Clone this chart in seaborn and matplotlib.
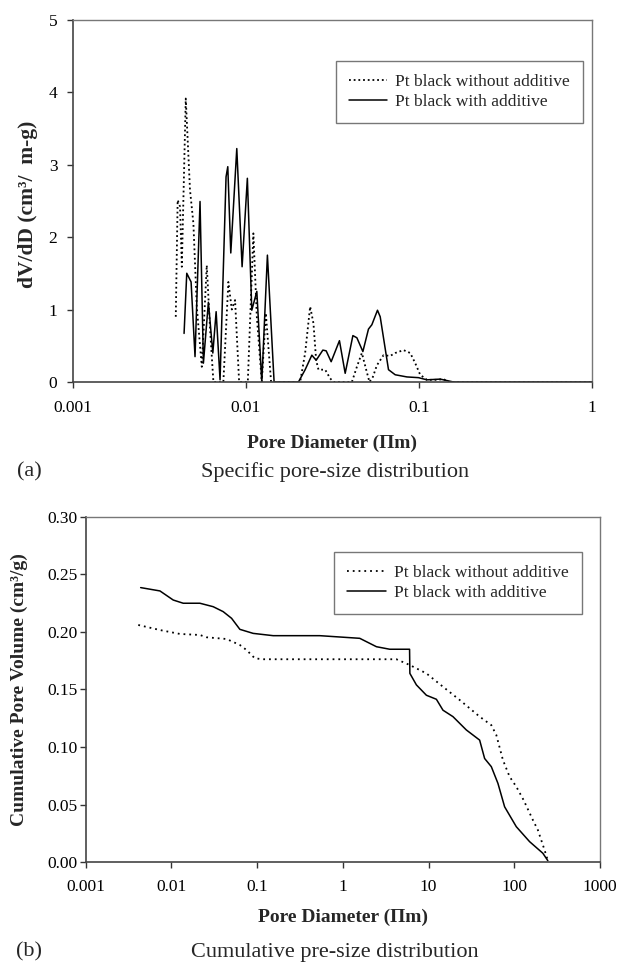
import seaborn as sns
import pandas as pd
from matplotlib import pyplot as plt
import matplotlib.ticker as mtick

# (a) specific pore-size distribution, dV/dD
a_x_without = [0.00394, 0.00404, 0.00417, 0.00427, 0.00450, 0.00476, 0.00498, 0.00521, 0.00557,
               0.00595, 0.00622, 0.00650, 0.00742, 0.00793, 0.00830, 0.00867, 0.00915, 0.01027,
               0.01106, 0.01158, 0.01237, 0.01305, 0.01400, 0.02060, 0.02202, 0.02353, 0.02459,
               0.02549, 0.02629, 0.02873, 0.03071, 0.03209, 0.04100, 0.04382, 0.04682, 0.04958,
               0.05181, 0.05420, 0.05717, 0.06243, 0.06824, 0.07294, 0.08147, 0.08908, 0.09520,
               0.1017, 0.1112, 0.1271, 0.1388, 0.1483, 1.0]
a_y_without = [0.90, 2.51, 2.42, 1.59, 3.91, 2.65, 2.19, 1.04, 0.21,
               1.61, 0.72, 0.0, 0.0, 1.38, 1.00, 1.13, 0.0, 0.0,
               2.05, 0.90, 0.0, 0.95, 0.0, 0.0, 0.40, 1.04, 0.81,
               0.30, 0.17, 0.17, 0.05, 0.0, 0.0, 0.21, 0.40, 0.17,
               0.0, 0.07, 0.23, 0.37, 0.36, 0.40, 0.44, 0.40, 0.26,
               0.10, 0.03, 0.03, 0.04, 0.0, 0.0]

a_x_with = [0.00440, 0.00456, 0.00483, 0.00509, 0.00544, 0.00569, 0.00608, 0.00645, 0.00674,
            0.00710, 0.00769, 0.00787, 0.00819, 0.00887, 0.00952, 0.01021, 0.01083, 0.01158,
            0.01237, 0.01333, 0.01457, 0.02014, 0.02202, 0.02407, 0.02549, 0.02787, 0.02912,
            0.03112, 0.03475, 0.03750, 0.04155, 0.04382, 0.04745, 0.05112, 0.05348, 0.05763,
            0.05975, 0.06672, 0.07294, 0.08524, 0.09947, 0.1112, 0.1328, 0.1585, 1.0]
a_y_with = [0.67, 1.50, 1.38, 0.35, 2.49, 0.26, 1.10, 0.40, 0.97,
            0.03, 2.83, 2.97, 1.78, 3.22, 1.59, 2.81, 0.99, 1.25,
            0.0, 1.75, 0.0, 0.0, 0.17, 0.37, 0.30, 0.44, 0.43,
            0.28, 0.57, 0.12, 0.64, 0.61, 0.42, 0.73, 0.79, 0.99,
            0.90, 0.17, 0.10, 0.07, 0.06, 0.03, 0.04, 0.0, 0.0]

# (b) cumulative pore volume
b_x_without = [0.004102, 0.007345, 0.01256, 0.02149, 0.02572, 0.04399, 0.06286, 0.07523, 0.09402,
               0.1175, 4.214, 6.021, 9.428, 14.72, 23.04, 39.41, 53.94, 61.69, 73.65, 88.13,
               105.5, 128.3, 164.8, 188.4, 225.5, 246.4]
b_y_without = [0.2061, 0.2017, 0.1983, 0.1974, 0.1954, 0.1939, 0.1887, 0.1843, 0.1771,
               0.1763, 0.1763, 0.1713, 0.1640, 0.1524, 0.1409, 0.1264, 0.1190, 0.1104, 0.0887, 0.0742,
               0.0655, 0.0539, 0.0365, 0.0278, 0.0104, 0.0011]

b_x_with = [0.004375, 0.007345, 0.01049, 0.01373, 0.02149, 0.03070, 0.04014, 0.05031, 0.06286,
            0.08981, 0.1537, 0.5381, 1.574, 2.464, 3.521, 6.00, 6.05, 7.208, 9.428, 12.33,
            14.72, 19.25, 27.58, 39.41, 45.06, 53.94, 64.41, 77.09, 105.5, 150.8, 215.4, 246.4]
b_y_with = [0.2386, 0.2357, 0.2278, 0.2250, 0.2250, 0.2220, 0.2177, 0.2119, 0.2023,
            0.1988, 0.1968, 0.1968, 0.1945, 0.1872, 0.1850, 0.1850, 0.1640, 0.1540, 0.1450, 0.1415,
            0.1320, 0.1264, 0.1148, 0.1060, 0.0900, 0.0829, 0.0684, 0.0480, 0.0307, 0.0177, 0.0076, 0.0011]

lbl_without = 'Pt black without additive'
lbl_with = 'Pt black with additive'

sns.set_style("ticks")
plt.rcParams['font.family'] = ['Liberation Serif', 'DejaVu Serif']
plt.rcParams['font.size'] = 12.5

fig = plt.figure(figsize=(6.18, 9.76), dpi=100)
ax1 = fig.add_axes([0.1176, 0.6086, 0.8404, 0.3714])
ax2 = fig.add_axes([0.1387, 0.1168, 0.8322, 0.3535])

sns.lineplot(x=a_x_without, y=a_y_without, ax=ax1, color='black', lw=1.3, linestyle=(0, (1, 1.6)),
             label=lbl_without, sort=False, estimator=None)
sns.lineplot(x=a_x_with, y=a_y_with, ax=ax1, color='black', lw=1.1,
             label=lbl_with, sort=False, estimator=None)

sns.lineplot(x=b_x_without, y=b_y_without, ax=ax2, color='black', lw=1.3, linestyle=(0, (1, 2.2)),
             label=lbl_without, sort=False, estimator=None)
sns.lineplot(x=b_x_with, y=b_y_with, ax=ax2, color='black', lw=1.1,
             label=lbl_with, sort=False, estimator=None)

for ax in (ax1, ax2):
    ax.set_xscale('log')
    ax.xaxis.set_major_formatter(mtick.FuncFormatter(lambda v, p: f'{v:g}'))
    ax.xaxis.set_minor_locator(mtick.NullLocator())
    ax.tick_params(direction='out', length=4, width=1, colors='#333333', labelsize=12.5,
                   labelcolor='black')
    for s in ('left', 'bottom'):
        ax.spines[s].set_color('#444444')
        ax.spines[s].set_linewidth(1.2)
    for s in ('top', 'right'):
        ax.spines[s].set_color('#777777')
        ax.spines[s].set_linewidth(1.0)

ax1.tick_params(axis='x', pad=9)
ax1.tick_params(axis='y', pad=7)
ax2.tick_params(axis='x', pad=8)
ax2.tick_params(axis='y', pad=2)

ax1.set_xlim(0.001, 1)
ax1.set_ylim(0, 5)
ax1.set_yticks([0, 1, 2, 3, 4, 5])
ax1.set_xticks([0.001, 0.01, 0.1, 1])

ax2.set_xlim(0.001, 1000)
ax2.set_ylim(0, 0.30)
ax2.set_yticks([0.0, 0.05, 0.10, 0.15, 0.20, 0.25, 0.30])
ax2.yaxis.set_major_formatter(mtick.FormatStrFormatter('%.2f'))
ax2.set_xticks([0.001, 0.01, 0.1, 1, 10, 100, 1000])

ax1.set_xlabel('Pore Diameter (Πm)', fontweight='bold', fontsize=14)
ax1.set_ylabel('dV/dD (cm³/  m-g)', fontweight='bold', fontsize=15.5)
ax1.xaxis.set_label_coords(0.5, -0.146)
ax1.yaxis.set_label_coords(-0.067, 0.49)

ax2.set_xlabel('Pore Diameter (Πm)', fontweight='bold', fontsize=14)
ax2.set_ylabel('Cumulative Pore Volume (cm³/g)', fontweight='bold', fontsize=14)
ax2.xaxis.set_label_coords(0.5, -0.136)
ax2.yaxis.set_label_coords(-0.112, 0.5)

for ax, anchor in ((ax1, (0.983, 0.886)), (ax2, (0.965, 0.899))):
    leg = ax.legend(loc='upper right', bbox_to_anchor=anchor, borderaxespad=0, fontsize=12.5,
                    frameon=True, fancybox=False, handlelength=2.2, handletextpad=0.5,
                    borderpad=0.75, labelspacing=0.2)
    leg.get_frame().set_edgecolor('#555555')
    leg.get_frame().set_linewidth(1.0)

fig.text(0.047, 1 - 472 / 976, '(a)', ha='center', va='center', fontsize=16)
fig.text(0.542, 1 - 472 / 976, 'Specific pore-size distribution', ha='center', va='center', fontsize=16)
fig.text(0.047, 1 - 952 / 976, '(b)', ha='center', va='center', fontsize=16)
fig.text(0.542, 1 - 952 / 976, 'Cumulative pre-size distribution', ha='center', va='center', fontsize=16)

fig.savefig('out.png', dpi=100)
